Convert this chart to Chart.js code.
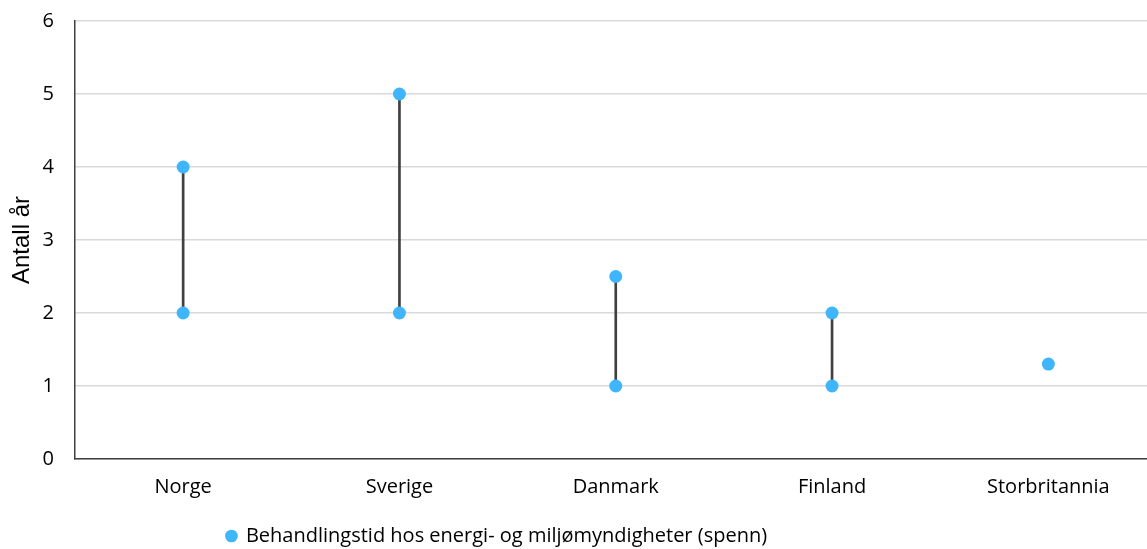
<!DOCTYPE html>
<html>
<head>
<meta charset="utf-8">
<script src="https://cdn.jsdelivr.net/npm/chart.js@4.4.1/dist/chart.umd.min.js"></script>
<style>
  html, body { margin: 0; padding: 0; overflow: hidden; background: #ffffff; }
  #wrap { position: absolute; left: 0; top: 0; width: 1163px; height: 556px; }
</style>
</head>
<body>
<div id="wrap"><canvas id="chart"></canvas></div>
<script>
// Processing time ranges (years) per country
const categories = ['Norge', 'Sverige', 'Danmark', 'Finland', 'Storbritannia'];
const lowValues  = [2, 2, 1, 1, 1.3];
const highValues = [4, 5, 2.5, 2, 1.3];
const yTicks = [0, 1, 2, 3, 4, 5, 6];
const seriesLabel = 'Behandlingstid hos energi- og miljømyndigheter (spenn)';
const axisTitle = 'Antall år';

const FONT = 'Open Sans';
const TITLE_FONT = 'Liberation Sans';
const pointColor = '#3fb6fc';
const stemColor = '#404040';

// End points: low and high per country (one point where they coincide)
const endPoints = [];
categories.forEach((c, i) => {
  endPoints.push({ x: c, y: lowValues[i] });
  if (highValues[i] !== lowValues[i]) endPoints.push({ x: c, y: highValues[i] });
});

// Connecting stems as thin floating bars
const stems = categories.map((c, i) =>
  highValues[i] !== lowValues[i] ? [lowValues[i], highValues[i]] : null);

// Moves the legend row horizontally after layout
const legendShift = {
  id: 'legendShift',
  afterLayout(chart, args, opts) {
    const lg = chart.legend;
    if (lg) { lg.left += opts.dx; lg.right += opts.dx; }
  }
};

Chart.defaults.font.family = FONT;
Chart.defaults.color = '#000000';

new Chart(document.getElementById('chart'), {
  type: 'bar',
  data: {
    labels: categories,
    datasets: [
      {
        type: 'line',
        label: seriesLabel,
        data: endPoints,
        showLine: false,
        pointStyle: 'circle',
        pointRadius: 6.5,
        pointHoverRadius: 6.5,
        pointBorderWidth: 0,
        borderWidth: 0,
        backgroundColor: pointColor,
        borderColor: pointColor,
        order: 0
      },
      {
        type: 'bar',
        label: 'stem',
        data: stems,
        barThickness: 2,
        backgroundColor: stemColor,
        borderWidth: 0,
        order: 1
      }
    ]
  },
  plugins: [legendShift],
  options: {
    responsive: true,
    maintainAspectRatio: false,
    animation: false,
    layout: { padding: { top: 21, right: 3, left: 0, bottom: 0 } },
    scales: {
      x: {
        grid: { display: false, drawTicks: false },
        border: { display: true, color: stemColor, width: 1.5 },
        ticks: { padding: 16, font: { size: 20 }, color: '#000' },
        afterFit(scale) { scale.height = 57; }
      },
      y: {
        min: 0,
        max: 6,
        afterBuildTicks(scale) { scale.ticks = yTicks.map(v => ({ value: v })); },
        grid: { color: '#d9d9d9', lineWidth: 1.5, drawTicks: false },
        border: { display: true, color: stemColor, width: 1.5 },
        ticks: { padding: 21, font: { size: 20 }, color: '#000' },
        title: { display: true, text: axisTitle, font: { family: TITLE_FONT, size: 24 }, color: '#000', padding: { top: 8, bottom: 0 } },
        afterFit(scale) {
          scale.width = 75;
          scale.paddingTop = 0;
          scale.paddingBottom = 0;
        }
      }
    },
    plugins: {
      legendShift: { dx: -83 },
      tooltip: { enabled: false },
      legend: {
        position: 'bottom',
        labels: {
          usePointStyle: true,
          boxWidth: 9,
          boxHeight: 9,
          padding: 10,
          font: { size: 20 },
          color: '#000',
          filter: item => item.datasetIndex === 0
        }
      }
    }
  }
});
</script>
</body>
</html>
